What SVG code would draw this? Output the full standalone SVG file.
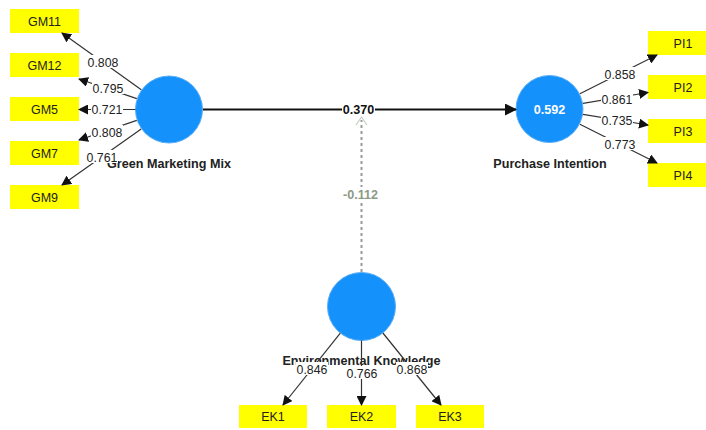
<svg xmlns="http://www.w3.org/2000/svg" width="706" height="430" viewBox="0 0 706 430">
<defs>
<style>
.lv{fill:#1591fb;stroke:#5aaef5;stroke-width:1}
.mv{fill:#ffff00}
.mt{font-family:"Liberation Sans",Arial,sans-serif;font-size:12.5px;fill:#222;text-anchor:middle}
.nl{font-family:"Liberation Sans",Arial,sans-serif;font-size:12.6px;font-weight:bold;fill:#222;text-anchor:middle}
.ld{stroke:#333;stroke-width:1.2;fill:none}
.lt{font-family:"Liberation Sans",Arial,sans-serif;font-size:12.3px;fill:#222;text-anchor:middle}
.bg{fill:#fff}
</style>
<marker id="ah" markerWidth="10" markerHeight="10" refX="9" refY="5" orient="auto" markerUnits="userSpaceOnUse">
<path d="M0,0 L10,5 L0,10 Z" fill="#111"/>
</marker>
<marker id="ahb" markerWidth="12" markerHeight="12" refX="11" refY="6" orient="auto" markerUnits="userSpaceOnUse">
<path d="M0,0 L12,6 L0,12 Z" fill="#111"/>
</marker>
</defs>
<rect width="706" height="430" fill="#fff"/>

<g id="GM11"><rect class="mv" x="10" y="9" width="69" height="24"/><text class="mt" x="44.5" y="25.5">GM11</text></g>
<g id="GM12"><rect class="mv" x="10" y="53" width="69" height="24"/><text class="mt" x="44.5" y="69.5">GM12</text></g>
<g id="GM5"><rect class="mv" x="10" y="97" width="69" height="24"/><text class="mt" x="44.5" y="113.5">GM5</text></g>
<g id="GM7"><rect class="mv" x="10" y="141" width="69" height="24"/><text class="mt" x="44.5" y="157.5">GM7</text></g>
<g id="GM9"><rect class="mv" x="10" y="185" width="69" height="24"/><text class="mt" x="44.5" y="201.5">GM9</text></g>

<g id="PI1"><rect class="mv" x="648" y="31" width="69" height="24"/><text class="mt" x="683" y="47.5">PI1</text></g>
<g id="PI2"><rect class="mv" x="648" y="75" width="69" height="24"/><text class="mt" x="683" y="91.5">PI2</text></g>
<g id="PI3"><rect class="mv" x="648" y="119" width="69" height="24"/><text class="mt" x="683" y="135.5">PI3</text></g>
<g id="PI4"><rect class="mv" x="648" y="163" width="69" height="24"/><text class="mt" x="683" y="179.5">PI4</text></g>

<g id="EK1"><rect class="mv" x="239" y="405" width="68" height="23"/><text class="mt" x="273" y="421">EK1</text></g>
<g id="EK2"><rect class="mv" x="327" y="405" width="69" height="23"/><text class="mt" x="361.5" y="421">EK2</text></g>
<g id="EK3"><rect class="mv" x="416" y="405" width="68" height="23"/><text class="mt" x="450" y="421">EK3</text></g>

<g id="GreenMarketingMix"><circle class="lv" cx="169" cy="109.5" r="33.5"/><text class="nl" x="169" y="167.5">Green Marketing Mix</text></g>
<g id="PurchaseIntention"><circle class="lv" cx="549.5" cy="109" r="33.5"/><text class="nl" x="549.5" y="110" dy="3.5" style="fill:#fff">0.592</text><text class="nl" x="550" y="167.5">Purchase Intention</text></g>
<g id="EnvironmentalKnowledge"><circle class="lv" cx="361.5" cy="306.5" r="34"/><text class="nl" x="361.5" y="365">Environmental Knowledge</text></g>

<g id="connectors">
<line x1="203" y1="109.5" x2="516" y2="109.5" stroke="#111" stroke-width="2" marker-end="url(#ahb)"/>
<line x1="361.5" y1="272" x2="361.5" y2="120" stroke="#9a9a9a" stroke-width="2" stroke-dasharray="3,3"/>
<path d="M356,125 L361.5,117 L367,125" fill="none" stroke="#c6cfc2" stroke-width="1.2"/>

<line class="ld" x1="141.3" y1="89.7" x2="62" y2="33" marker-end="url(#ah)"/>
<line class="ld" x1="136.8" y1="98.6" x2="79" y2="79" marker-end="url(#ah)"/>
<line class="ld" x1="135.5" y1="109.5" x2="79" y2="109.5" marker-end="url(#ah)"/>
<line class="ld" x1="136.8" y1="120.4" x2="79" y2="140" marker-end="url(#ah)"/>
<line class="ld" x1="141.2" y1="129.1" x2="62" y2="185" marker-end="url(#ah)"/>

<line class="ld" x1="579.9" y1="93.7" x2="657" y2="55" marker-end="url(#ah)"/>
<line class="ld" x1="583" y1="103.3" x2="648" y2="92.5" marker-end="url(#ah)"/>
<line class="ld" x1="583" y1="114.4" x2="648" y2="125" marker-end="url(#ah)"/>
<line class="ld" x1="579.9" y1="124.3" x2="657" y2="163" marker-end="url(#ah)"/>

<line class="ld" x1="340.3" y1="333.1" x2="283" y2="405" marker-end="url(#ah)"/>
<line class="ld" x1="361.5" y1="340.5" x2="361.5" y2="405" marker-end="url(#ah)"/>
<line class="ld" x1="382.9" y1="333" x2="441" y2="405" marker-end="url(#ah)"/>

<rect class="bg" x="342" y="102" width="33" height="14"/>
<text class="nl" x="358.5" y="113.5" style="fill:#111">0.370</text>
<rect class="bg" x="342" y="187" width="37" height="14"/>
<text class="nl" x="360.5" y="198.5" style="fill:#8c9a86">-0.112</text>

<rect class="bg" x="87" y="55" width="32" height="13"/><text class="lt" x="103" y="66.5">0.808</text>
<rect class="bg" x="92" y="81" width="32" height="13"/><text class="lt" x="108" y="92.5">0.795</text>
<rect class="bg" x="91" y="103" width="32" height="13"/><text class="lt" x="107" y="114">0.721</text>
<rect class="bg" x="91" y="125" width="32" height="13"/><text class="lt" x="107" y="136.5">0.808</text>
<rect class="bg" x="86" y="150" width="32" height="13"/><text class="lt" x="102" y="161.5">0.761</text>

<rect class="bg" x="604" y="67" width="32" height="13"/><text class="lt" x="620" y="78.5">0.858</text>
<rect class="bg" x="601" y="92" width="32" height="13"/><text class="lt" x="617" y="103.5">0.861</text>
<rect class="bg" x="601" y="113" width="32" height="13"/><text class="lt" x="617" y="124.5">0.735</text>
<rect class="bg" x="604" y="137" width="32" height="13"/><text class="lt" x="620" y="148.5">0.773</text>

<rect class="bg" x="296" y="362" width="32" height="13"/><text class="lt" x="312" y="373.5">0.846</text>
<rect class="bg" x="346" y="366" width="32" height="13"/><text class="lt" x="362" y="377.5">0.766</text>
<rect class="bg" x="396" y="362" width="32" height="13"/><text class="lt" x="412" y="373.5">0.868</text>
</g>
</svg>
